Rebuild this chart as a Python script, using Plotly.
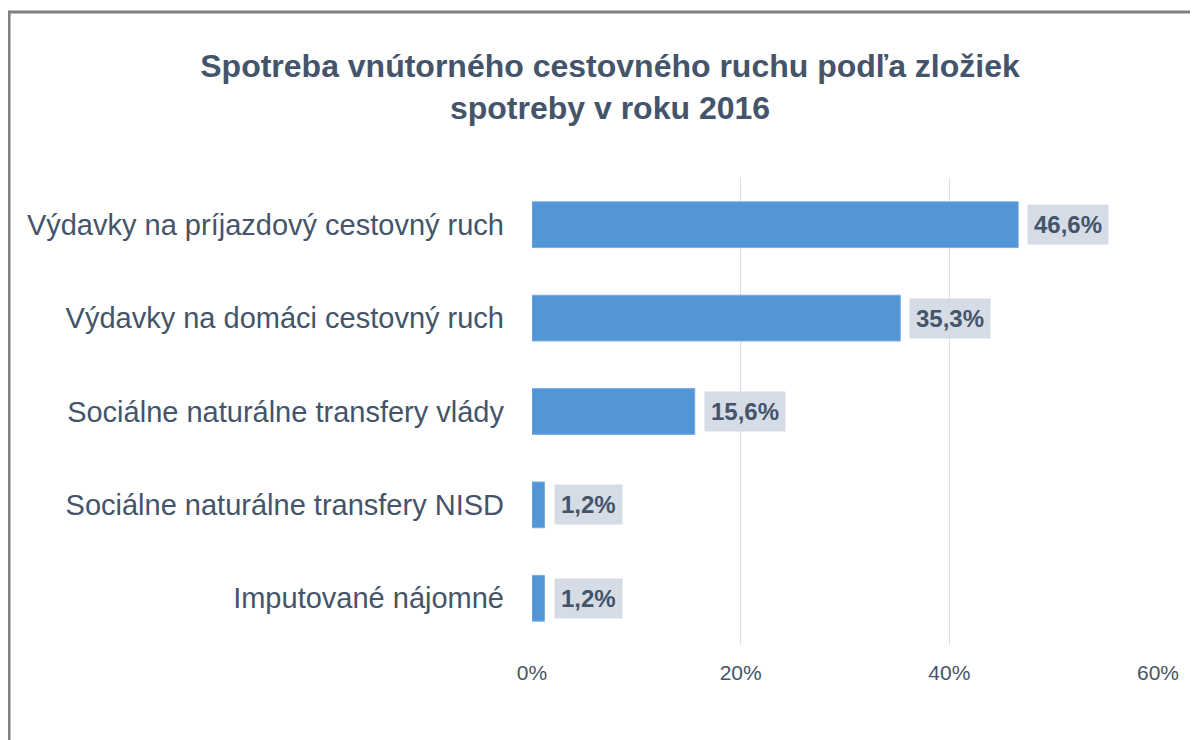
import plotly.graph_objects as go

categories = [
    "Výdavky na príjazdový cestovný ruch",
    "Výdavky na domáci cestovný ruch",
    "Sociálne naturálne transfery vlády",
    "Sociálne naturálne transfery NISD",
    "Imputované nájomné",
]
values = [46.6, 35.3, 15.6, 1.2, 1.2]
tick_vals = [0, 20, 40, 60]
tick_text = ["0%", "20%", "40%", "60%"]
title_text = "Spotreba vnútorného cestovného ruchu podľa zložiek<br>spotreby v roku 2016"

TXT = "#44546A"
OFF = 8  # page body margin
W, H = 1198 - OFF, 740 - OFF
L, T = 532 - OFF, 178 - OFF
R = W - (1158 - OFF)
B = H - (645 - OFF)
pw, ph = W - L - R, H - T - B

def px_x(px):
    return (px - OFF - L) / pw

def px_y(py):
    return (H - B - (py - OFF)) / ph

fig = go.Figure()
fig.add_trace(go.Bar(
    y=categories, x=values, orientation="h",
    marker=dict(color="#5296D6", line=dict(color="#79AEE0", width=1)),
    width=0.49, hoverinfo="skip",
))

for c, v in zip(categories, values):
    fig.add_annotation(
        x=v, y=c, xref="x", yref="y", xanchor="left", yanchor="middle",
        xshift=9, showarrow=False,
        text="<b>" + f"{v:.1f}".replace(".", ",") + "%</b>",
        font=dict(family="Liberation Sans, Arial", size=24, color=TXT),
        bgcolor="#D6DCE5", borderpad=6,
    )

fig.add_shape(type="rect", xref="paper", yref="paper",
              x0=px_x(9), x1=px_x(1260), y0=px_y(800), y1=px_y(12),
              line=dict(color="#808080", width=3), fillcolor="rgba(0,0,0,0)", layer="below")

fig.update_layout(
    width=W, height=H,
    margin=dict(l=L, r=R, t=T, b=B),
    paper_bgcolor="white", plot_bgcolor="white",
    showlegend=False,
    title=dict(text="<b>" + title_text + "</b>", x=(610 - OFF) / W, xanchor="center",
               y=1 - (77 - OFF) / H, yanchor="middle",
               font=dict(family="Liberation Sans, Arial", size=32, color=TXT)),
    xaxis=dict(range=[0, 60], tickvals=tick_vals, ticktext=tick_text,
               showgrid=True, gridcolor="#D9DEE8", gridwidth=1, zeroline=False,
               showline=False, ticks="", ticklabelstandoff=13,
               tickfont=dict(family="Liberation Sans, Arial", size=21, color=TXT),
               fixedrange=True),
    yaxis=dict(autorange="reversed", showgrid=False, zeroline=False, showline=False,
               ticks="", ticklabelstandoff=27,
               tickfont=dict(family="Liberation Sans, Arial", size=29, color=TXT),
               fixedrange=True),
    bargap=0.51,
)

fig.write_html("out.html")
